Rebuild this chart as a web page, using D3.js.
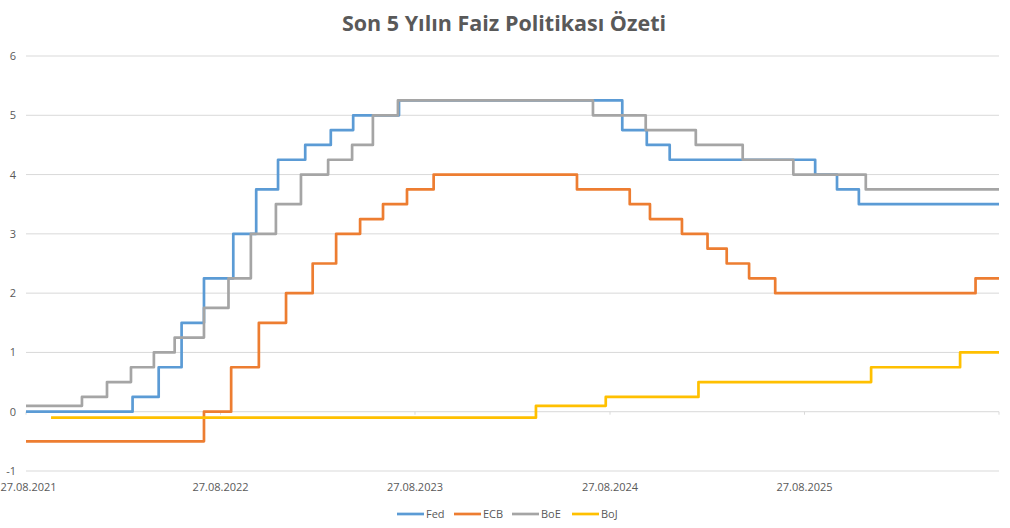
<!DOCTYPE html>
<html><head><meta charset="utf-8">
<script src="https://cdn.jsdelivr.net/npm/d3@7"></script>
<style>
body{margin:0;background:#fff;}
text{font-family:"Open Sans","Noto Sans",sans-serif;}
</style></head>
<body><svg id="c" width="1010" height="528"></svg>
<script>
const title = "Son 5 Yılın Faiz Politikası Özeti";
const seriesNames = ["Fed","ECB","BoE","BoJ"];
const seriesColors = ["#5B9BD5","#ED7D31","#A5A5A5","#FFC000"];
const xStart = "2021-08-27", xEnd = "2026-08-27";
const xTickLabels = ["27.08.2021","27.08.2022","27.08.2023","27.08.2024","27.08.2025"];
const yTicks = [-1,0,1,2,3,4,5,6];

// [date, rate] step points (value holds from date until next point)
const fed = [["2021-08-27",0],["2022-03-15",0.25],["2022-05-03",0.75],["2022-06-15",1.5],["2022-07-27",2.25],["2022-09-20",3.0],["2022-11-02",3.75],["2022-12-13",4.25],["2023-02-02",4.5],["2023-03-22",4.75],["2023-05-03",5.0],["2023-07-28",5.25],["2024-09-19",4.75],["2024-11-04",4.5],["2024-12-17",4.25],["2025-09-16",4.0],["2025-10-27",3.75],["2025-12-07",3.5],["2026-08-27",3.5]];
const ecb = [["2021-08-27",-0.5],["2022-07-27",0],["2022-09-16",0.75],["2022-11-07",1.5],["2022-12-28",2.0],["2023-02-16",2.5],["2023-04-01",3.0],["2023-05-16",3.25],["2023-06-28",3.5],["2023-08-12",3.75],["2023-10-01",4.0],["2024-06-26",3.75],["2024-10-03",3.5],["2024-11-10",3.25],["2025-01-09",3.0],["2025-02-26",2.75],["2025-04-03",2.5],["2025-05-15",2.25],["2025-07-03",2.0],["2026-07-14",2.25],["2026-08-27",2.25]];
const boe = [["2021-08-27",0.1],["2021-12-10",0.25],["2022-01-26",0.5],["2022-03-12",0.75],["2022-04-24",1.0],["2022-06-02",1.25],["2022-07-27",1.75],["2022-09-11",2.25],["2022-10-23",3.0],["2022-12-09",3.5],["2023-01-25",4.0],["2023-03-17",4.25],["2023-05-01",4.5],["2023-06-09",5.0],["2023-07-26",5.25],["2024-07-26",5.0],["2024-11-02",4.75],["2025-02-04",4.5],["2025-05-03",4.25],["2025-08-06",4.0],["2025-12-20",3.75],["2026-08-27",3.75]];
const boj = [["2021-10-13",-0.1],["2024-04-10",0.1],["2024-08-19",0.25],["2025-02-09",0.5],["2025-12-30",0.75],["2026-06-15",1.0],["2026-08-27",1.0]];
const allSeries = [fed, ecb, boe, boj];

const parse = d3.timeParse("%Y-%m-%d");
const parseLbl = d3.timeParse("%d.%m.%Y");
const svg = d3.select("#c");
const W = 1010, H = 528;
const x = d3.scaleTime().domain([parse(xStart), parse(xEnd)]).range([26, 999]);
const y = d3.scaleLinear().domain([-1, 6]).range([471, 56]);

svg.append("rect").attr("width",W).attr("height",H).attr("fill","#fff");

// gridlines
svg.append("g").selectAll("line").data(yTicks).join("line")
  .attr("x1",26).attr("x2",999)
  .attr("y1",d=>y(d)).attr("y2",d=>y(d))
  .attr("stroke","#d9d9d9").attr("stroke-width",1);

// y labels
svg.append("g").selectAll("text").data(yTicks).join("text")
  .attr("x",16).attr("y",d=>y(d)+4)
  .attr("text-anchor","end").attr("font-size",11).attr("fill","#595959")
  .text(d=>d);

// x tick marks on zero line
const tickDates = xTickLabels.map(s=>parseLbl(s)).concat([parse(xEnd)]);
svg.append("g").selectAll("line").data(tickDates).join("line")
  .attr("x1",d=>x(d)).attr("x2",d=>x(d))
  .attr("y1",y(0)).attr("y2",y(0)+3)
  .attr("stroke","#d9d9d9");

// x labels (first one kept inside the left edge, as in the reference)
svg.append("g").selectAll("text").data(xTickLabels).join("text")
  .attr("y",491).attr("font-size",11).attr("fill","#595959")
  .text(d=>d)
  .each(function(d){
    const w = this.getComputedTextLength();
    const cx = Math.max(x(parseLbl(d)), w/2 + 0.5);
    d3.select(this).attr("x",cx).attr("text-anchor","middle");
  });

// lines
const line = d3.line().x(d=>x(parse(d[0]))).y(d=>y(d[1])).curve(d3.curveStepAfter);
svg.append("g").selectAll("path").data(allSeries).join("path")
  .attr("d",line).attr("fill","none")
  .attr("stroke",(d,i)=>seriesColors[i]).attr("stroke-width",2.7)
  .attr("stroke-linejoin","round");

// title
svg.append("text").attr("x",504).attr("y",31).attr("text-anchor","middle")
  .attr("font-size",21.5).attr("font-weight","bold").attr("fill","#595959")
  .text(title);

// legend
const legX = [397,454,512,572];
const lg = svg.append("g").selectAll("g").data(seriesNames).join("g")
  .attr("transform",(d,i)=>`translate(${legX[i]},514)`);
lg.append("line").attr("x1",0).attr("x2",27).attr("y1",0).attr("y2",0)
  .attr("stroke",(d,i)=>seriesColors[i]).attr("stroke-width",2.7);
lg.append("text").attr("x",29).attr("y",4).attr("font-size",11).attr("fill","#595959").text(d=>d);
</script></body></html>
